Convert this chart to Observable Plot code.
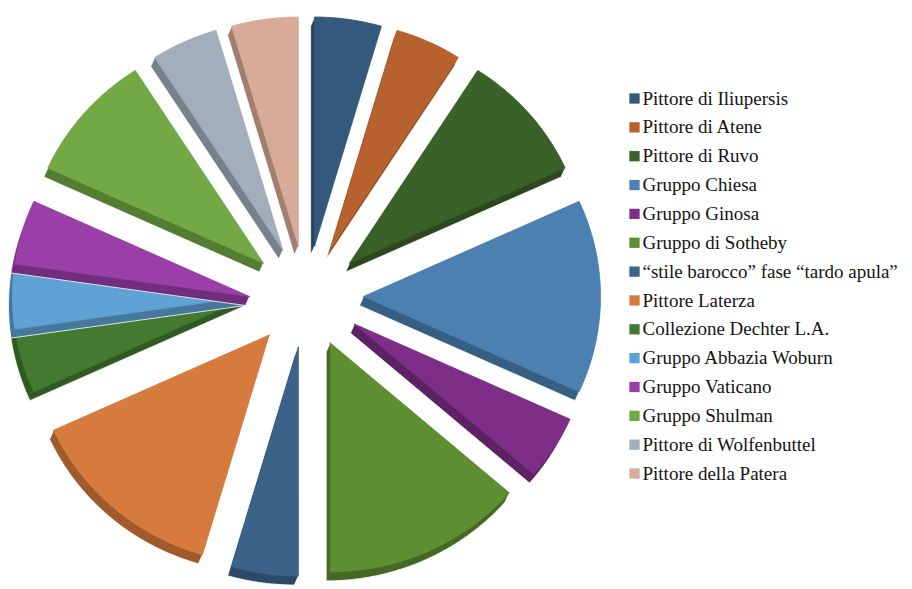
<!DOCTYPE html>
<html><head><meta charset="utf-8">
<script src="https://cdn.jsdelivr.net/npm/d3@7"></script>
<script src="https://cdn.jsdelivr.net/npm/@observablehq/plot@0.6"></script>
<style>body{margin:0;background:#fff}</style>
</head><body><div id="chart"></div>
<script>
const categories = [
  "Pittore di Iliupersis",
  "Pittore di Atene",
  "Pittore di Ruvo",
  "Gruppo Chiesa",
  "Gruppo Ginosa",
  "Gruppo di Sotheby",
  "\u201cstile barocco\u201d fase \u201ctardo apula\u201d",
  "Pittore Laterza",
  "Collezione Dechter L.A.",
  "Gruppo Abbazia Woburn",
  "Gruppo Vaticano",
  "Gruppo Shulman",
  "Pittore di Wolfenbuttel",
  "Pittore della Patera"
];
const values = [1, 1, 2, 3, 1, 3, 1, 3, 1, 1, 1, 2, 1, 1];
const colors = [
  "#34597d", "#b6612e", "#3a6128", "#4b80b1", "#7d2e86", "#5d8e31", "#3b6389",
  "#d77a3d", "#437a2f", "#5fa2d6", "#9a3ea8", "#73a944", "#a3aebd", "#d8ab98"
];

// layout / style
const W = 912, H = 589;
const cx = 306, cy = 296, rx = 237, ry = 229, ex = 57, ey = 51;
const depth = [-4, 9];
const explodeGroup = [0, 1, 2, 3, 4, 5, 6, 7, 8, 8, 8, 9, 10, 11];

const arcs = d3.pie().sort(null).value(d => d)(values);
const groupSpan = new Map();
arcs.forEach((a, i) => {
  const g = explodeGroup[i];
  const m = groupSpan.get(g) || [Infinity, -Infinity];
  m[0] = Math.min(m[0], a.startAngle); m[1] = Math.max(m[1], a.endAngle);
  groupSpan.set(g, m);
});
const slices = arcs.map((a, i) => {
  const [g0, g1] = groupSpan.get(explodeGroup[i]);
  const gm = (g0 + g1) / 2;
  const ox = cx + ex * Math.sin(gm), oy = cy - ey * Math.cos(gm);
  const n = Math.max(8, Math.ceil((a.endAngle - a.startAngle) / 0.02));
  const face = [[ox, oy]];
  for (let k = 0; k <= n; k++) {
    const t = a.startAngle + (a.endAngle - a.startAngle) * k / n;
    face.push([ox + rx * Math.sin(t), oy - ry * Math.cos(t)]);
  }
  const hull = d3.polygonHull(face.concat(face.map(([x, y]) => [x + depth[0], y + depth[1]])));
  const mid = (a.startAngle + a.endAngle) / 2;
  return {i, face, hull, sortY: oy - ry * 0.6 * Math.cos(mid)};
});
const order = slices.slice().sort((a, b) => b.sortY - a.sortY);
const rows = [];
order.forEach(s => {
  const side = d3.color(colors[s.i]).darker(0.85).formatHex();
  const h = s.hull.concat([s.hull[0]]);
  h.forEach(([x, y]) => rows.push({x, y, id: "h" + s.i, fill: side, stroke: "#ffffff"}));
  const f = s.face.concat([s.face[0]]);
  f.forEach(([x, y]) => rows.push({x, y, id: "f" + s.i, fill: colors[s.i], stroke: colors[s.i]}));
});

const legendY = (d, i) => 98 + i * 28.85;

const chart = Plot.plot({
  width: W, height: H,
  margin: 0,
  style: {background: "#ffffff"},
  x: {domain: [0, W], range: [0, W], axis: null},
  y: {domain: [0, H], range: [0, H], axis: null},
  color: {type: "identity"},
  marks: [
    Plot.line(rows, {x: "x", y: "y", z: "id", fill: "fill", stroke: "stroke", strokeWidth: 0.8, curve: "linear"}),
    Plot.dot(categories, {x: () => 634, y: legendY, symbol: "square", r: 5.8, fill: (d, i) => colors[i], stroke: null}),
    Plot.text(categories, {x: () => 642, y: legendY, text: d => d, textAnchor: "start", fontSize: 19,
      fontFamily: "'Liberation Serif', 'Times New Roman', serif", fill: "#141414"})
  ]
});
document.getElementById("chart").appendChild(chart);
</script>
</body></html>
